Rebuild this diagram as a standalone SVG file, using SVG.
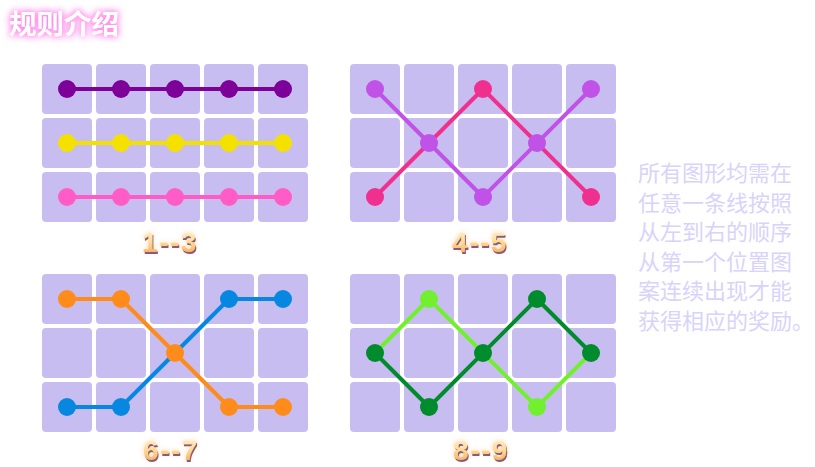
<svg xmlns="http://www.w3.org/2000/svg" width="815" height="467" viewBox="0 0 815 467">
<defs>
<style>
.cell{fill:#c8bdf0}
.ln{fill:none;stroke-width:4;stroke-linejoin:round;stroke-linecap:round}
.lbl{font-family:"Liberation Sans",Arial,sans-serif;font-weight:bold;font-size:28px;text-anchor:middle;fill:url(#lg);letter-spacing:1.5px}
.desc{font-family:"Noto Sans CJK SC","Noto Sans",sans-serif;font-size:22px;fill:#d8d3fa}
</style>
<linearGradient id="lg" x1="0" y1="0" x2="0" y2="1">
<stop offset="0" stop-color="#fff6d8"/>
<stop offset="0.5" stop-color="#ffd890"/>
<stop offset="1" stop-color="#f0a050"/>
</linearGradient>
<filter id="glow" x="-30%" y="-60%" width="160%" height="220%">
<feGaussianBlur in="SourceAlpha" stdDeviation="3.5" result="b"/>
<feFlood flood-color="#ff7ee8"/>
<feComposite in2="b" operator="in" result="g"/>
<feMerge><feMergeNode in="g"/><feMergeNode in="g"/><feMergeNode in="SourceGraphic"/></feMerge>
</filter>
<filter id="lglow" x="-30%" y="-40%" width="160%" height="180%">
<feGaussianBlur in="SourceAlpha" stdDeviation="2.5" result="b"/>
<feFlood flood-color="#ffc890" flood-opacity="0.8"/>
<feComposite in2="b" operator="in" result="g"/>
<feOffset in="SourceAlpha" dx="1" dy="2" result="o"/>
<feFlood flood-color="#8a5a7a"/>
<feComposite in2="o" operator="in" result="s"/>
<feMerge><feMergeNode in="g"/><feMergeNode in="s"/><feMergeNode in="SourceGraphic"/></feMerge>
</filter>
<g id="grid">
<rect class="cell" x="0" y="0" width="50" height="50" rx="4"/>
<rect class="cell" x="54" y="0" width="50" height="50" rx="4"/>
<rect class="cell" x="108" y="0" width="50" height="50" rx="4"/>
<rect class="cell" x="162" y="0" width="50" height="50" rx="4"/>
<rect class="cell" x="216" y="0" width="50" height="50" rx="4"/>
<rect class="cell" x="0" y="54" width="50" height="50" rx="4"/>
<rect class="cell" x="54" y="54" width="50" height="50" rx="4"/>
<rect class="cell" x="108" y="54" width="50" height="50" rx="4"/>
<rect class="cell" x="162" y="54" width="50" height="50" rx="4"/>
<rect class="cell" x="216" y="54" width="50" height="50" rx="4"/>
<rect class="cell" x="0" y="108" width="50" height="50" rx="4"/>
<rect class="cell" x="54" y="108" width="50" height="50" rx="4"/>
<rect class="cell" x="108" y="108" width="50" height="50" rx="4"/>
<rect class="cell" x="162" y="108" width="50" height="50" rx="4"/>
<rect class="cell" x="216" y="108" width="50" height="50" rx="4"/>
</g>
</defs>
<rect width="815" height="467" fill="#ffffff"/>

<g id="title" filter="url(#glow)">
<text x="9" y="34" font-family="'Noto Sans CJK SC',sans-serif" font-weight="bold" font-size="27.5" fill="#ffffff">规则介绍</text>
</g>

<g id="panel-1-3">
<use href="#grid" x="42" y="64"/>
<g id="lines-1-3">
<path class="ln" stroke="#7d0098" d="M67 89H283"/>
<path class="ln" stroke="#f2e000" d="M67 143H283"/>
<path class="ln" stroke="#ff5cc8" d="M67 197H283"/>
</g>
<g fill="#7d0098"><circle cx="67" cy="89" r="9"/><circle cx="121" cy="89" r="9"/><circle cx="175" cy="89" r="9"/><circle cx="229" cy="89" r="9"/><circle cx="283" cy="89" r="9"/></g>
<g fill="#f5e100"><circle cx="67" cy="143" r="9"/><circle cx="121" cy="143" r="9"/><circle cx="175" cy="143" r="9"/><circle cx="229" cy="143" r="9"/><circle cx="283" cy="143" r="9"/></g>
<g fill="#ff5cc8"><circle cx="67" cy="197" r="9"/><circle cx="121" cy="197" r="9"/><circle cx="175" cy="197" r="9"/><circle cx="229" cy="197" r="9"/><circle cx="283" cy="197" r="9"/></g>
<text class="lbl" x="170" y="252" filter="url(#lglow)">1--3</text>
</g>

<g id="panel-4-5">
<use href="#grid" x="350" y="64"/>
<g id="lines-4-5">
<path class="ln" stroke="#c052e8" d="M375 89L483 197L591 89"/>
<path class="ln" stroke="#f0308e" d="M375 197L483 89L591 197"/>
</g>
<g fill="#f0308e"><circle cx="375" cy="197" r="9"/><circle cx="483" cy="89" r="9"/><circle cx="591" cy="197" r="9"/></g>
<g fill="#c052e8"><circle cx="375" cy="89" r="9"/><circle cx="429" cy="143" r="9"/><circle cx="483" cy="197" r="9"/><circle cx="537" cy="143" r="9"/><circle cx="591" cy="89" r="9"/></g>
<text class="lbl" x="480" y="252" filter="url(#lglow)">4--5</text>
</g>

<g id="panel-6-7">
<use href="#grid" x="42" y="274"/>
<g id="lines-6-7">
<path class="ln" stroke="#ff8c1a" d="M67 299H121L229 407H283"/>
<path class="ln" stroke="#0788e0" d="M67 407H121L229 299H283"/>
</g>
<g fill="#0788e0"><circle cx="67" cy="407" r="9"/><circle cx="121" cy="407" r="9"/><circle cx="229" cy="299" r="9"/><circle cx="283" cy="299" r="9"/></g>
<g fill="#ff8c1a"><circle cx="67" cy="299" r="9"/><circle cx="121" cy="299" r="9"/><circle cx="175" cy="353" r="9"/><circle cx="229" cy="407" r="9"/><circle cx="283" cy="407" r="9"/></g>
<text class="lbl" x="171" y="460" filter="url(#lglow)">6--7</text>
</g>

<g id="panel-8-9">
<use href="#grid" x="350" y="274"/>
<g id="lines-8-9">
<path class="ln" stroke="#72f030" d="M375 353L429 299L537 407L591 353"/>
<path class="ln" stroke="#008c2c" d="M375 353L429 407L537 299L591 353"/>
</g>
<g fill="#72f030"><circle cx="429" cy="299" r="9"/><circle cx="537" cy="407" r="9"/></g>
<g fill="#008c2c"><circle cx="375" cy="353" r="9"/><circle cx="429" cy="407" r="9"/><circle cx="483" cy="353" r="9"/><circle cx="537" cy="299" r="9"/><circle cx="591" cy="353" r="9"/></g>
<text class="lbl" x="481" y="460" filter="url(#lglow)">8--9</text>
</g>

<g id="rules-text">
<text class="desc" x="638" y="181">所有图形均需在</text>
<text class="desc" x="638" y="210.5">任意一条线按照</text>
<text class="desc" x="638" y="240">从左到右的顺序</text>
<text class="desc" x="638" y="269.5">从第一个位置图</text>
<text class="desc" x="638" y="299">案连续出现才能</text>
<text class="desc" x="638" y="328.5">获得相应的奖励。</text>
</g>
</svg>
